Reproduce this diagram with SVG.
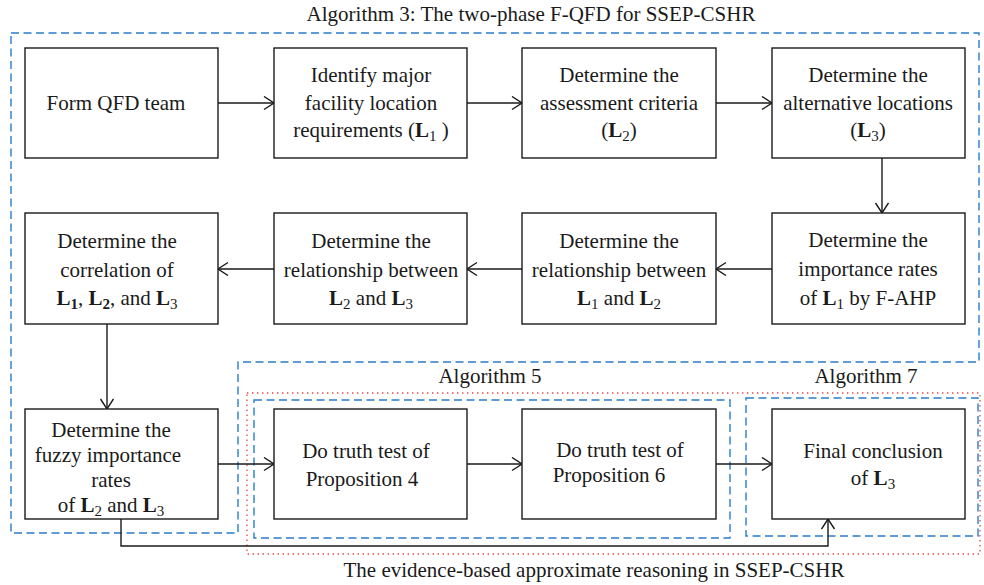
<svg xmlns="http://www.w3.org/2000/svg" width="984" height="585" viewBox="0 0 984 585">
  <style>
    text { font-family: "Liberation Serif", "Times New Roman", serif; font-size: 21px; fill: #1a1a1a; }
    .box { fill: #ffffff; stroke: #1a1a1a; stroke-width: 1.4; }
    .conn { fill: none; stroke: #1a1a1a; stroke-width: 1.4; }
    .blue { fill: none; stroke: #2a7ccc; stroke-width: 1.4; stroke-dasharray: 8 4.5; }
    .red { fill: none; stroke: #ee4444; stroke-width: 1.3; stroke-dasharray: 1.4 3.6; }
    .b { font-weight: bold; }
    .s { font-size: 15px; }
  </style>
  <defs>
    <marker id="arrow" markerUnits="userSpaceOnUse" markerWidth="14" markerHeight="16" refX="11" refY="7" orient="auto">
      <path d="M1,0.5 L11,7 L1,13.5" fill="none" stroke="#1a1a1a" stroke-width="1.4"/>
    </marker>
  </defs>

  <!-- frames -->
  <g id="frames">
    <path class="blue" d="M11,33 H979 V362 H238 V533 H11 Z"/>
    <rect class="red" x="247" y="393" width="733" height="161"/>
    <rect class="blue" x="254" y="400" width="476" height="138"/>
    <rect class="blue" x="746" y="398" width="232" height="138"/>
    <text x="531" y="21" text-anchor="middle">Algorithm 3: The two-phase F-QFD for SSEP-CSHR</text>
    <text x="490" y="383" text-anchor="middle">Algorithm 5</text>
    <text x="866" y="383" text-anchor="middle">Algorithm 7</text>
    <text x="594" y="577" text-anchor="middle">The evidence-based approximate reasoning in SSEP-CSHR</text>
  </g>

  <!-- connectors -->
  <g id="connectors" marker-end="url(#arrow)">
    <path class="conn" d="M218,103 H274"/>
    <path class="conn" d="M467,103 H522"/>
    <path class="conn" d="M716,103 H772"/>
    <path class="conn" d="M882,158 V213"/>
    <path class="conn" d="M772,269 H716"/>
    <path class="conn" d="M522,269 H467"/>
    <path class="conn" d="M274,269 H218"/>
    <path class="conn" d="M107,324 V409"/>
    <path class="conn" d="M218,464 H274"/>
    <path class="conn" d="M467,464 H522"/>
    <path class="conn" d="M716,464 H772"/>
    <path class="conn" d="M121,519 V546 H828 V519"/>
  </g>

  <!-- row 1 -->
  <g id="n1">
    <rect class="box" x="25" y="48" width="193" height="110"/>
    <text x="116" y="110" text-anchor="middle">Form QFD team</text>
  </g>
  <g id="n2">
    <rect class="box" x="274" y="48" width="193" height="110"/>
    <text x="371" y="82" text-anchor="middle">Identify major</text>
    <text x="371" y="110" text-anchor="middle">facility location</text>
    <text x="371" y="137" text-anchor="middle">requirements (<tspan class="b">L</tspan><tspan class="s" dy="4">1</tspan><tspan dy="-4"> )</tspan></text>
  </g>
  <g id="n3">
    <rect class="box" x="522" y="48" width="194" height="110"/>
    <text x="619" y="82" text-anchor="middle">Determine the</text>
    <text x="619" y="110" text-anchor="middle">assessment criteria</text>
    <text x="619" y="137" text-anchor="middle">(<tspan class="b">L</tspan><tspan class="s" dy="4">2</tspan><tspan dy="-4">)</tspan></text>
  </g>
  <g id="n4">
    <rect class="box" x="772" y="48" width="193" height="110"/>
    <text x="868" y="82" text-anchor="middle">Determine the</text>
    <text x="868" y="110" text-anchor="middle">alternative locations</text>
    <text x="868" y="137" text-anchor="middle">(<tspan class="b">L</tspan><tspan class="s" dy="4">3</tspan><tspan dy="-4">)</tspan></text>
  </g>

  <!-- row 2 -->
  <g id="n5">
    <rect class="box" x="772" y="213" width="193" height="111"/>
    <text x="868" y="247" text-anchor="middle">Determine the</text>
    <text x="868" y="276" text-anchor="middle">importance rates</text>
    <text x="868" y="305" text-anchor="middle">of <tspan class="b">L</tspan><tspan class="s" dy="4">1</tspan><tspan dy="-4"> by F-AHP</tspan></text>
  </g>
  <g id="n6">
    <rect class="box" x="522" y="213" width="194" height="111"/>
    <text x="619" y="248" text-anchor="middle">Determine the</text>
    <text x="619" y="277" text-anchor="middle">relationship between</text>
    <text x="619" y="305" text-anchor="middle"><tspan class="b">L</tspan><tspan class="s" dy="4">1</tspan><tspan dy="-4"> and </tspan><tspan class="b">L</tspan><tspan class="s" dy="4">2</tspan></text>
  </g>
  <g id="n7">
    <rect class="box" x="274" y="213" width="193" height="111"/>
    <text x="371" y="248" text-anchor="middle">Determine the</text>
    <text x="371" y="277" text-anchor="middle">relationship between</text>
    <text x="371" y="305" text-anchor="middle"><tspan class="b">L</tspan><tspan class="s" dy="4">2</tspan><tspan dy="-4"> and </tspan><tspan class="b">L</tspan><tspan class="s" dy="4">3</tspan></text>
  </g>
  <g id="n8">
    <rect class="box" x="25" y="213" width="193" height="111"/>
    <text x="117" y="248" text-anchor="middle">Determine the</text>
    <text x="117" y="277" text-anchor="middle">correlation of</text>
    <text x="117" y="305" text-anchor="middle"><tspan class="b">L</tspan><tspan class="s b" dy="4">1</tspan><tspan dy="-4">, </tspan><tspan class="b">L</tspan><tspan class="s b" dy="4">2</tspan><tspan dy="-4">, and </tspan><tspan class="b">L</tspan><tspan class="s" dy="4">3</tspan></text>
  </g>

  <!-- row 3 -->
  <g id="n9">
    <rect class="box" x="25" y="409" width="193" height="110"/>
    <text x="111" y="437" text-anchor="middle">Determine the</text>
    <text x="108" y="462" text-anchor="middle">fuzzy importance</text>
    <text x="111" y="487" text-anchor="middle">rates</text>
    <text x="111" y="512" text-anchor="middle">of <tspan class="b">L</tspan><tspan class="s" dy="4">2</tspan><tspan dy="-4"> and </tspan><tspan class="b">L</tspan><tspan class="s" dy="4">3</tspan></text>
  </g>
  <g id="n10">
    <rect class="box" x="274" y="409" width="193" height="110"/>
    <text x="366" y="458" text-anchor="middle">Do truth test of</text>
    <text x="362" y="486" text-anchor="middle">Proposition 4</text>
  </g>
  <g id="n11">
    <rect class="box" x="522" y="409" width="194" height="110"/>
    <text x="620" y="457" text-anchor="middle">Do truth test of</text>
    <text x="609" y="482" text-anchor="middle">Proposition 6</text>
  </g>
  <g id="n12">
    <rect class="box" x="772" y="409" width="193" height="110"/>
    <text x="873" y="458" text-anchor="middle">Final conclusion</text>
    <text x="873" y="485" text-anchor="middle">of <tspan class="b">L</tspan><tspan class="s" dy="4">3</tspan></text>
  </g>
</svg>
